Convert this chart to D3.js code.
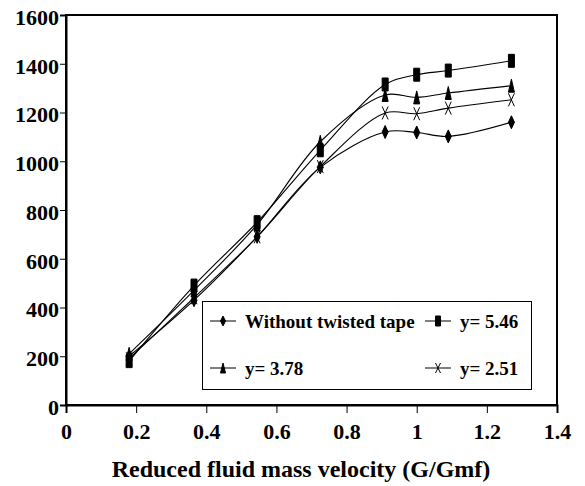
<!DOCTYPE html>
<html>
<head>
<meta charset="utf-8">
<script src="https://cdn.jsdelivr.net/npm/d3@7"></script>
<style>
  body { margin: 0; background: #fff; }
</style>
</head>
<body>
<div id="chart"></div>
<script>
// reduced fluid mass velocity (G/Gmf)
const xValues = [0.18, 0.365, 0.545, 0.725, 0.91, 1.0, 1.09, 1.27];

const withoutTape = [200, 430, 690, 975, 1120, 1118, 1102, 1160];
const y546 = [180, 490, 750, 1045, 1315, 1355, 1372, 1412];
const y378 = [210, 470, 740, 1080, 1272, 1262, 1280, 1310];
const y251 = [190, 440, 690, 978, 1198, 1195, 1218, 1252];

const xTicks = [0, 0.2, 0.4, 0.6, 0.8, 1, 1.2, 1.4];
const yTicks = [0, 200, 400, 600, 800, 1000, 1200, 1400, 1600];

const series = [
    { label: 'Without twisted tape', values: withoutTape, marker: 'diamond' },
    { label: 'y= 5.46', values: y546, marker: 'square' },
    { label: 'y= 3.78', values: y378, marker: 'triangle' },
    { label: 'y= 2.51', values: y251, marker: 'cross' }
];

const FONT = '"Liberation Serif", "Times New Roman", Times, serif';

const width = 585;
const height = 486;
const margin = { top: 15, right: 28, bottom: 81, left: 66 };

const svg = d3.select('#chart')
    .append('svg')
    .attr('width', width)
    .attr('height', height)
    .style('font-family', FONT);

const x = d3.scaleLinear().domain([0, 1.4]).range([margin.left, width - margin.right]);
const y = d3.scaleLinear().domain([0, 1600]).range([height - margin.bottom, margin.top]);

// plot frame
svg.append('rect')
    .attr('x', x(0))
    .attr('y', y(1600))
    .attr('width', x(1.4) - x(0))
    .attr('height', y(0) - y(1600))
    .attr('fill', 'none')
    .attr('stroke', '#000')
    .attr('stroke-width', 2);

function styleText(sel, size) {
    sel.style('font-family', FONT)
        .style('font-weight', 'bold')
        .style('font-size', size + 'px')
        .attr('fill', '#000');
}

// axes
const xAxis = svg.append('g')
    .attr('transform', `translate(0,${y(0)})`)
    .call(d3.axisBottom(x).tickValues(xTicks).tickFormat(d3.format('')).tickSizeOuter(0).tickSize(8).tickPadding(10));
xAxis.attr('font-family', null);
xAxis.select('.domain').attr('stroke-width', 2);
styleText(xAxis.selectAll('text'), 22);

const yAxis = svg.append('g')
    .attr('transform', `translate(${x(0)},0)`)
    .call(d3.axisLeft(y).tickValues(yTicks).tickFormat(d3.format('d')).tickSizeOuter(0).tickSize(6).tickPadding(1));
yAxis.attr('font-family', null);
yAxis.select('.domain').attr('stroke-width', 2);
styleText(yAxis.selectAll('text'), 22);
yAxis.selectAll('text').attr('dy', '0.42em');

styleText(svg.append('text')
    .attr('x', 301)
    .attr('y', 477)
    .attr('text-anchor', 'middle')
    .text('Reduced fluid mass velocity (G/Gmf)'), 24);

// marker shapes (narrow and tall like the original)
function markerPath(type, w, h) {
    const a = w / 2, b = h / 2;
    switch (type) {
        case 'diamond': return `M0,${-b}L${a},0L0,${b}L${-a},0Z`;
        case 'square': return `M${-a},${-b}H${a}V${b}H${-a}Z`;
        case 'triangle': return `M0,${-b}L${a},${b}H${-a}Z`;
        case 'cross': return `M${-a},${-b}L${a},${b}M${a},${-b}L${-a},${b}`;
    }
}

function drawMarker(g, type, w, h) {
    g.append('path')
        .attr('d', markerPath(type, w, h))
        .attr('fill', type === 'cross' ? 'none' : '#000')
        .attr('stroke', '#000')
        .attr('stroke-width', 1);
}

const line = d3.line()
    .x((d, i) => x(xValues[i]))
    .y(d => y(d))
    .curve(d3.curveCatmullRom.alpha(0.5));

series.forEach(s => {
    svg.append('path')
        .datum(s.values)
        .attr('d', line)
        .attr('fill', 'none')
        .attr('stroke', '#000')
        .attr('stroke-width', 1.1);

    s.values.forEach((v, i) => {
        const g = svg.append('g').attr('transform', `translate(${x(xValues[i])},${y(v)})`);
        drawMarker(g, s.marker, 6, 13);
    });
});

// legend
const legend = svg.append('g');
legend.append('rect')
    .attr('x', 202.5)
    .attr('y', 301.5)
    .attr('width', 329)
    .attr('height', 88)
    .attr('fill', '#fff')
    .attr('stroke', '#000')
    .attr('stroke-width', 1);

const legendPos = [[210, 321], [425, 321], [210, 368], [425, 368]];
series.forEach((s, i) => {
    const [lx, ly] = legendPos[i];
    const g = legend.append('g').attr('transform', `translate(${lx},${ly})`);
    g.append('line')
        .attr('x1', 0).attr('x2', 26)
        .attr('stroke', '#000')
        .attr('stroke-width', 1);
    const m = g.append('g').attr('transform', 'translate(13,0)');
    drawMarker(m, s.marker, 5, 10);
    styleText(g.append('text')
        .attr('x', 35)
        .attr('dy', '0.35em')
        .text(s.label), 19);
});
</script>
</body>
</html>
